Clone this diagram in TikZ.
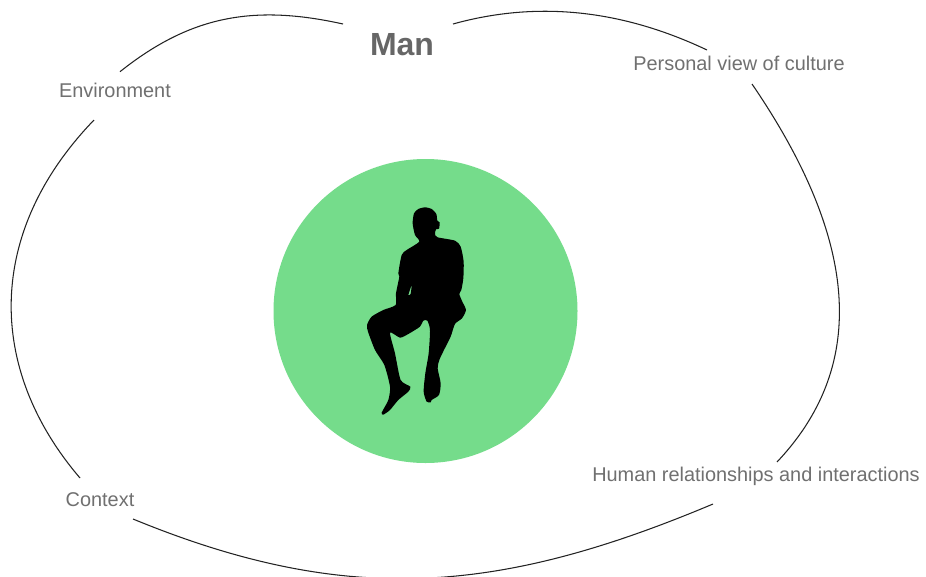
\documentclass[tikz,border=0pt]{standalone}
\usepackage{fontspec}
\setmainfont{Liberation Sans}
\tikzset{
  lbl/.style={text=labelgray,font=\fontsize{19.9}{22}\selectfont,inner sep=0pt},
  title/.style={text=titlegray,font=\fontsize{32}{36}\bfseries\selectfont,inner sep=0pt},
  arc/.style={draw=arcgray,line width=1.05pt},
}
\definecolor{labelgray}{HTML}{707070}
\definecolor{titlegray}{HTML}{666666}
\definecolor{arcgray}{HTML}{222222}
\definecolor{disc}{HTML}{75DC8B}
\begin{document}
\begin{tikzpicture}[x=1pt,y=-1pt]
\useasboundingbox (0,0) rectangle (926,576);
\clip (0,0) rectangle (926,576);
\fill[white] (0,0) rectangle (926,576);
\node[circle,fill=disc,minimum size=304pt,inner sep=0pt] (disc) at (425.5,311) {};
\begin{scope}[shift={(340,190)},x=0.3333pt,y=-0.3333pt]
\fill[black,even odd rule]
 plot[smooth cycle,tension=0.4] coordinates {
 (255,52)(275,57)(289,72)(292,92)(299,97)(297,116)(288,118)(285,132)(293,142)(345,152)(362,170)(371,215)(370,265)(364,300)(358,312)(367,335)(378,360)(366,385)(345,402)(332,440)(312,480)(298,510)(293,535)(302,580)(297,615)(275,630)(272,637)(260,635)(251,605)(256,550)(266,490)(270,420)(262,392)(250,392)(240,410)(205,432)(180,443)(150,428)(165,490)(182,570)(211,590)(205,605)(175,630)(150,660)(130,674)(125,668)(145,630)(150,590)(133,525)(105,480)(84,425)(81,405)(95,380)(130,360)(167,345)(168,310)(178,260)(175,250)(185,195)(200,180)(238,155)(225,135)(218,100)(222,70)(235,57)}
 plot[smooth cycle,tension=0.3] coordinates {(215,285)(205,315)(212,312)};
\end{scope}
\node[title] (man) at (402,45) {Man};
\node[lbl] (env) at (115,90) {Environment};
\node[lbl] (pvc) at (739,63.5) {Personal view of culture};
\node[lbl] (ctx) at (100,499.5) {Context};
\node[lbl] (hri) at (756,476.5) {Human relationships and interactions};
\coordinate (a1) at (120,71.7);
\coordinate (a2) at (343,24);
\coordinate (b1) at (94,120);
\coordinate (b2) at (80,478);
\coordinate (c1) at (133,519);
\coordinate (c2) at (713,504);
\coordinate (d1) at (777,462);
\coordinate (d2) at (752,84);
\coordinate (e1) at (453,24);
\coordinate (e2) at (707,50);
\draw[arc] (a1) .. controls (190,16) and (253,4) .. (a2);
\draw[arc] (b1) .. controls (-14,232) and (-14,368) .. (b2);
\draw[arc] (c1) .. controls (347,607) and (499,594) .. (c2);
\draw[arc] (d1) .. controls (864,370) and (864,248) .. (d2);
\draw[arc] (e1) .. controls (525,4) and (610,4) .. (e2);
\end{tikzpicture}
\end{document}
